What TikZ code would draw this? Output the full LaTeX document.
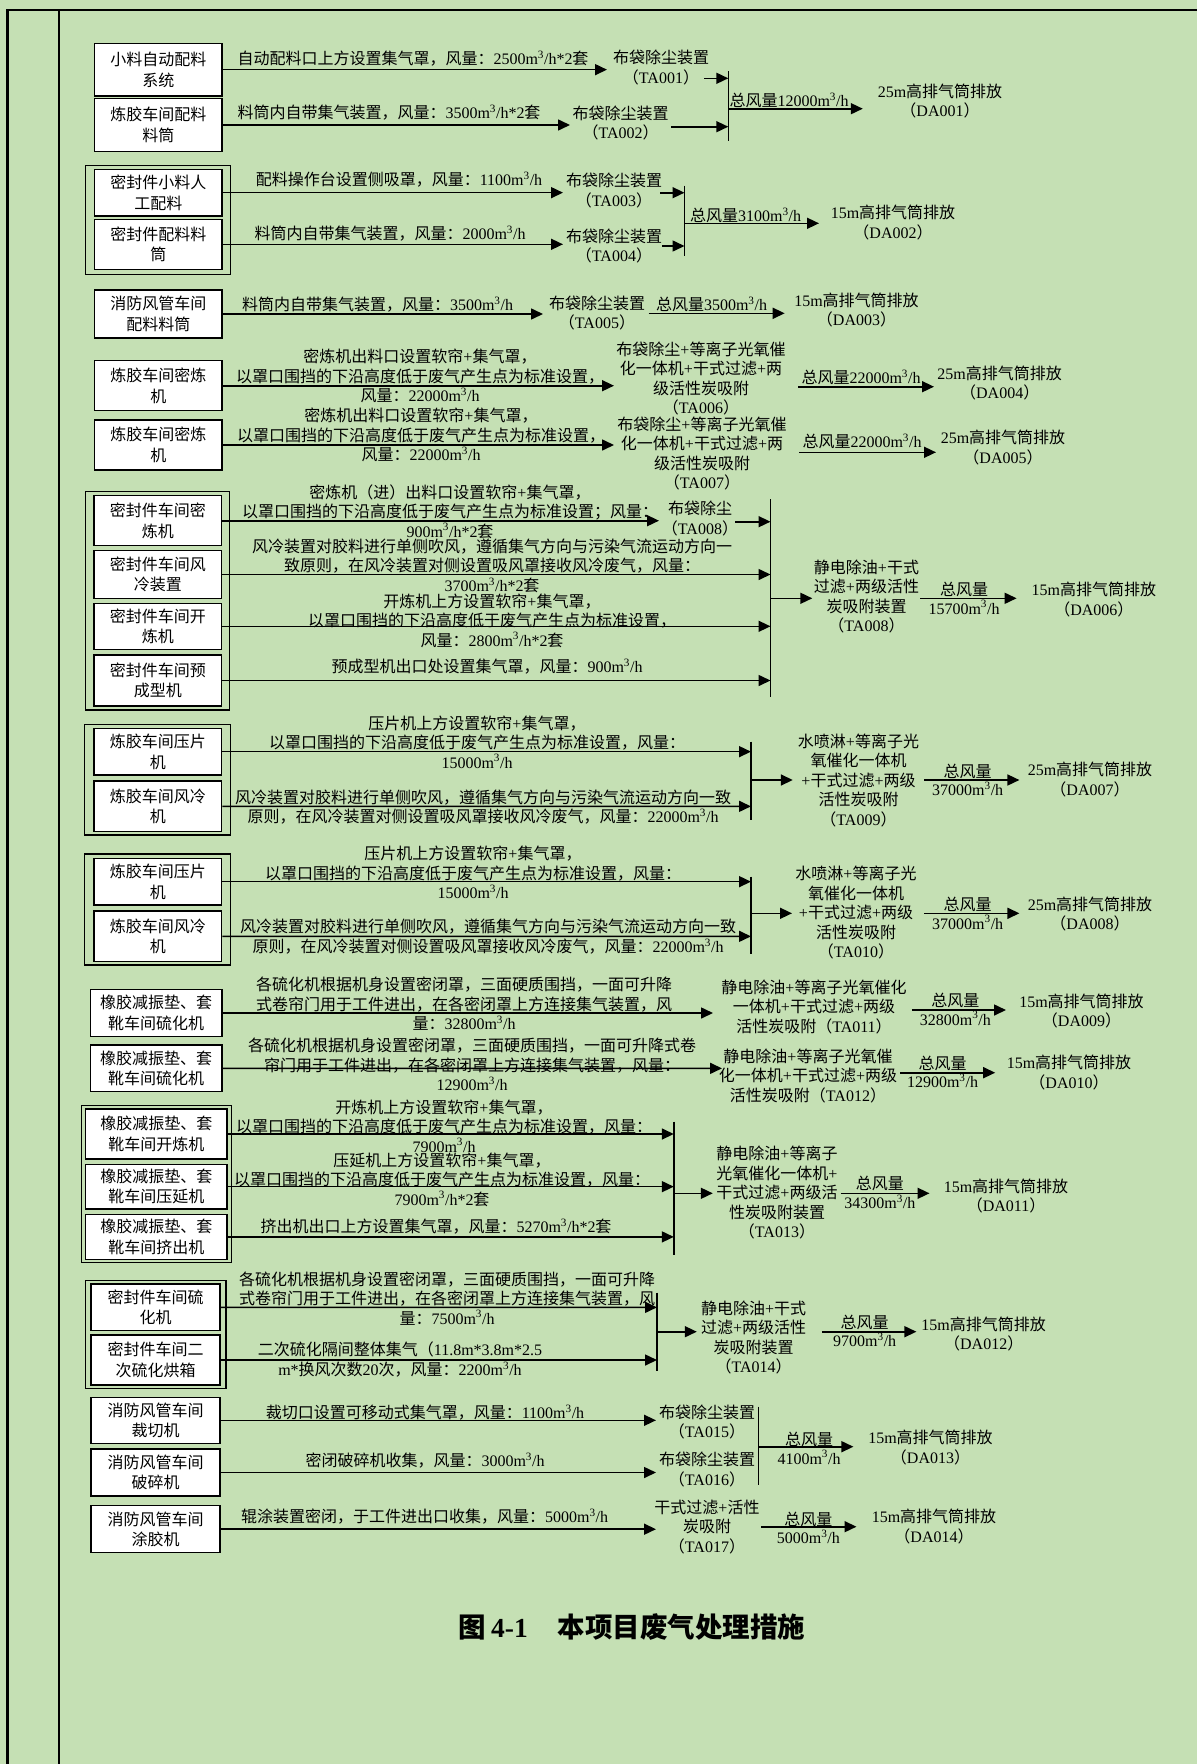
\documentclass[tikz,border=0pt]{standalone}
\usepackage{fontspec}
\usetikzlibrary{arrows.meta}
\setmainfont{Liberation Serif}
\newfontfamily\latfont{Liberation Serif}
\newfontfamily\cjkfont{Noto Sans CJK SC}
% Automatic switch between the Latin face and the CJK face
\XeTeXinterchartokenstate=1
\newXeTeXintercharclass\cjkcls
\makeatletter
\newcommand\cjkrange[2]{\count@=#1\relax
  \loop\XeTeXcharclass\count@=\cjkcls
  \ifnum\count@<#2\relax\advance\count@\@ne\repeat}
\cjkrange{"2E80}{"9FFF}
\cjkrange{"FF00}{"FFEF}
\makeatother
\XeTeXinterchartoks 0 \cjkcls = {\cjkfont}
\XeTeXinterchartoks 4095 \cjkcls = {\cjkfont}
\XeTeXinterchartoks \cjkcls 0 = {\latfont}
\XeTeXinterchartoks 4095 0 = {\latfont}

\newcommand\cubh{m\textsuperscript{3}/h}
\newcommand\lblfont{\fontsize{16}{19.5}\selectfont}
\newcommand\boxfont{\fontsize{16}{20.5}\selectfont}
\newcommand\flowfont{\fontsize{16}{18.5}\selectfont}
\definecolor{pagegreen}{RGB}{197,224,180}

\tikzset{
  box/.style={draw, line width=1.5pt, fill=white, inner sep=0pt, align=center, font=\boxfont},
  grpframe/.style={draw, line width=1.3pt},
  lbl/.style={inner sep=0pt, align=center, font=\lblfont},
  flow/.style={inner sep=0pt, align=center, font=\flowfont},
  arr/.style={line width=1.6pt, -{Triangle[length=12pt,width=11pt]}},
  bar/.style={line width=1.6pt},
}
% source box given by its left, right, top and bottom edges
\newcommand\boxat[6]{%
  \pgfmathsetmacro\bxw{#3-#2}%
  \pgfmathsetmacro\bxh{#5-#4}%
  \node[box, minimum width=\bxw pt, minimum height=\bxh pt] (#1) at ({(#2+#3)/2},{(#4+#5)/2}) {#6};}

\begin{document}
\begin{tikzpicture}[x=1pt,y=-1pt]
\fill[pagegreen] (0,0) rectangle (1197,1764);
\useasboundingbox (0,0) rectangle (1197,1764);
% page frame
\draw[line width=2.8pt] (7.5,1764) -- (7.5,10) -- (1197,10);
\draw[line width=2pt] (59,10) -- (59,1764);

% ---------- DA001 ----------
\boxat{A1}{94.5}{222}{43.3}{96}{小料自动配料\\系统}
\boxat{A2}{94.5}{222}{98.3}{151.7}{炼胶车间配料\\料筒}
\node[lbl] (LA1) at (413,58.3) {自动配料口上方设置集气罩，风量：2500\cubh*2套};
\node[lbl] (LA2) at (389,112.3) {料筒内自带集气装置，风量：3500\cubh*2套};
\coordinate (tA1) at (607,69.65);
\coordinate (tA2) at (570,125);
\draw[arr] (A1) -- (tA1);
\draw[arr] (A2) -- (tA2);
\node[lbl] (T1) at (661,67.5) {布袋除尘装置\\（TA001）};
\node[lbl] (T2) at (620.6,123) {布袋除尘装置\\（TA002）};
\coordinate (barAt) at (728.3,71);
\coordinate (barAb) at (728.3,140.7);
\draw[bar] (barAt) -- (barAb);
\coordinate (T1o) at (704,78.3);
\coordinate (T1i) at (728.3,78.3);
\coordinate (T2o) at (671,126.7);
\coordinate (T2i) at (728.3,126.7);
\draw[arr] (T1o) -- (T1i);
\draw[arr] (T2o) -- (T2i);
\coordinate (oA) at (728.3,108.7);
\coordinate (oAt) at (862.8,108.7);
\draw[arr] (oA) -- (oAt);
\node[flow] (QA) at (789,100.2) {总风量12000\cubh};
\node[lbl] (DA1) at (940,100.8) {25m高排气筒排放\\（DA001）};

% ---------- DA002 ----------
\draw[grpframe] (85.6,165.7) rectangle (230.8,274.3);
\boxat{B1}{94.5}{222}{169.3}{216}{密封件小料人\\工配料}
\boxat{B2}{94.5}{222}{219.3}{269.3}{密封件配料料\\筒}
\node[lbl] (LB1) at (399,180) {配料操作台设置侧吸罩，风量：1100\cubh};
\node[lbl] (LB2) at (390,234) {料筒内自带集气装置，风量：2000\cubh};
\coordinate (tB1) at (563,192.65);
\coordinate (tB2) at (563,244.3);
\draw[arr] (B1) -- (tB1);
\draw[arr] (B2) -- (tB2);
\node[lbl] (T3) at (614,190.5) {布袋除尘装置\\（TA003）};
\node[lbl] (T4) at (614,246) {布袋除尘装置\\（TA004）};
\coordinate (barBt) at (684.5,185.7);
\coordinate (barBb) at (684.5,255.7);
\draw[bar] (barBt) -- (barBb);
\coordinate (T3o) at (660,192.7);
\coordinate (T3i) at (684.5,192.7);
\coordinate (T4o) at (662,246);
\coordinate (T4i) at (684.5,246);
\draw[arr] (T3o) -- (T3i);
\draw[arr] (T4o) -- (T4i);
\coordinate (oB) at (684.5,223.3);
\coordinate (oBt) at (819,223.3);
\draw[arr] (oB) -- (oBt);
\node[flow] (QB) at (745.6,215.2) {总风量3100\cubh};
\node[lbl] (DA2) at (893,222.7) {15m高排气筒排放\\（DA002）};

% ---------- DA003 ----------
\boxat{C1}{94.5}{222}{290}{338}{消防风管车间\\配料料筒}
\node[lbl] (LC1) at (377.5,305) {料筒内自带集气装置，风量：3500\cubh};
\coordinate (tC1) at (543,314);
\draw[arr] (C1) -- (tC1);
\node[lbl] (T5) at (597,312.8) {布袋除尘装置\\（TA005）};
\coordinate (oC) at (648.7,313.3);
\coordinate (oCt) at (784.7,313.3);
\draw[arr] (oC) -- (oCt);
\node[flow] (QC) at (711.5,304.3) {总风量3500\cubh};
\node[lbl] (DA3) at (856.5,310) {15m高排气筒排放\\（DA003）};

% ---------- DA004 / DA005 ----------
\boxat{D1}{94.5}{222}{360.7}{410.7}{炼胶车间密炼\\机}
\node[lbl] (LD1) at (420,376.3) {密炼机出料口设置软帘+集气罩，\\以罩口围挡的下沿高度低于废气产生点为标准设置，\\风量：22000\cubh};
\coordinate (tD1) at (614,385.7);
\draw[arr] (D1) -- (tD1);
\node[lbl] (T6) at (701,378.7) {布袋除尘+等离子光氧催\\化一体机+干式过滤+两\\级活性炭吸附\\（TA006）};
\coordinate (oD1) at (798,386.7);
\coordinate (oD1t) at (934,386.7);
\draw[arr] (oD1) -- (oD1t);
\node[flow] (QD1) at (861,377.3) {总风量22000\cubh};
\node[lbl] (DA4) at (999.7,383) {25m高排气筒排放\\（DA004）};

\boxat{D2}{94.5}{222}{420}{470}{炼胶车间密炼\\机}
\node[lbl] (LD2) at (421,435.2) {密炼机出料口设置软帘+集气罩，\\以罩口围挡的下沿高度低于废气产生点为标准设置，\\风量：22000\cubh};
\coordinate (tD2) at (614,445);
\draw[arr] (D2) -- (tD2);
\node[lbl] (T7) at (702,453.5) {布袋除尘+等离子光氧催\\化一体机+干式过滤+两\\级活性炭吸附\\（TA007）};
\coordinate (oD2) at (799,452.3);
\coordinate (oD2t) at (936,452.3);
\draw[arr] (oD2) -- (oD2t);
\node[flow] (QD2) at (862,441.7) {总风量22000\cubh};
\node[lbl] (DA5) at (1003,447.5) {25m高排气筒排放\\（DA005）};

% ---------- DA006 ----------
\draw[grpframe] (85.5,491.7) rectangle (229.5,710);
\boxat{E1}{94}{221.5}{495.7}{545.7}{密封件车间密\\炼机}
\boxat{E2}{94}{221.5}{550.7}{598.3}{密封件车间风\\冷装置}
\boxat{E3}{94}{221.5}{603.3}{649.3}{密封件车间开\\炼机}
\boxat{E4}{94}{221.5}{655}{706}{密封件车间预\\成型机}
\node[lbl] (LE1) at (450,511.5) {密炼机（进）出料口设置软帘+集气罩，\\以罩口围挡的下沿高度低于废气产生点为标准设置；风量：\\900\cubh*2套};
\node[lbl] (LE2) at (492,565.8) {风冷装置对胶料进行单侧吹风，遵循集气方向与污染气流运动方向一\\致原则，在风冷装置对侧设置吸风罩接收风冷废气，风量：\\3700\cubh*2套};
\node[lbl] (LE3) at (492,620.5) {开炼机上方设置软帘+集气罩，\\以罩口围挡的下沿高度低于废气产生点为标准设置，\\风量：2800\cubh*2套};
\node[lbl] (LE4) at (487,666.7) {预成型机出口处设置集气罩，风量：900\cubh};
\coordinate (tE1) at (659,520.7);
\coordinate (tE2) at (770.5,574.5);
\coordinate (tE3) at (770.5,626.3);
\coordinate (tE4) at (770.5,680.5);
\draw[arr] (E1) -- (tE1);
\draw[arr] (E2) -- (tE2);
\draw[arr] (E3) -- (tE3);
\draw[arr] (E4) -- (tE4);
\node[lbl] (T8a) at (700,518.3) {布袋除尘\\（TA008）};
\coordinate (T8o) at (735,521.7);
\coordinate (T8i) at (770.5,521.7);
\draw[arr] (T8o) -- (T8i);
\coordinate (barEt) at (770.5,499.3);
\coordinate (barEb) at (770.5,697.3);
\draw[bar] (barEt) -- (barEb);
\coordinate (oE) at (770.5,598.3);
\coordinate (oEt) at (812.3,598.3);
\draw[arr] (oE) -- (oEt);
\node[lbl] (T8b) at (866.5,596.5) {静电除油+干式\\过滤+两级活性\\炭吸附装置\\（TA008）};
\coordinate (oE2) at (920,598.3);
\coordinate (oE2t) at (1016.6,598.3);
\draw[arr] (oE2) -- (oE2t);
\node[flow] (QE) at (964,598.3) {总风量\\15700\cubh};
\node[lbl] (DA6) at (1093.8,599.3) {15m高排气筒排放\\（DA006）};

% ---------- DA007 ----------
\draw[grpframe] (84.5,724.3) rectangle (230.3,835);
\boxat{F1}{94}{221.5}{728.3}{775}{炼胶车间压片\\机}
\boxat{F2}{94}{221.5}{781}{831.7}{炼胶车间风冷\\机}
\node[lbl] (LF1) at (477,742) {压片机上方设置软帘+集气罩，\\以罩口围挡的下沿高度低于废气产生点为标准设置，风量：\\15000\cubh};
\node[lbl] (LF2) at (483,807) {风冷装置对胶料进行单侧吹风，遵循集气方向与污染气流运动方向一致\\原则，在风冷装置对侧设置吸风罩接收风冷废气，风量：22000\cubh};
\coordinate (tF1) at (751,751.65);
\coordinate (tF2) at (751,806.35);
\draw[arr] (F1) -- (tF1);
\draw[arr] (F2) -- (tF2);
\coordinate (barFt) at (751,741.7);
\coordinate (barFb) at (751,820);
\draw[bar] (barFt) -- (barFb);
\coordinate (oF) at (751,780);
\coordinate (oFt) at (792.8,780);
\draw[arr] (oF) -- (oFt);
\node[lbl] (T9) at (858.5,780) {水喷淋+等离子光\\氧催化一体机\\+干式过滤+两级\\活性炭吸附\\（TA009）};
\coordinate (oF2) at (924,780);
\coordinate (oF2t) at (1019.4,780);
\draw[arr] (oF2) -- (oF2t);
\node[flow] (QF) at (967.7,780) {总风量\\37000\cubh};
\node[lbl] (DA7) at (1090,779.7) {25m高排气筒排放\\（DA007）};

% ---------- DA008 ----------
\draw[grpframe] (84.5,854) rectangle (230.3,965);
\boxat{G1}{94}{221.5}{858.3}{905}{炼胶车间压片\\机}
\boxat{G2}{94}{221.5}{911}{961.7}{炼胶车间风冷\\机}
\node[lbl] (LG1) at (473,872.3) {压片机上方设置软帘+集气罩，\\以罩口围挡的下沿高度低于废气产生点为标准设置，风量：\\15000\cubh};
\node[lbl] (LG2) at (488,936.8) {风冷装置对胶料进行单侧吹风，遵循集气方向与污染气流运动方向一致\\原则，在风冷装置对侧设置吸风罩接收风冷废气，风量：22000\cubh};
\coordinate (tG1) at (751,881.65);
\coordinate (tG2) at (751,936.35);
\draw[arr] (G1) -- (tG1);
\draw[arr] (G2) -- (tG2);
\coordinate (barGt) at (751,876.7);
\coordinate (barGb) at (751,954);
\draw[bar] (barGt) -- (barGb);
\coordinate (oG) at (751,913.3);
\coordinate (oGt) at (792,913.3);
\draw[arr] (oG) -- (oGt);
\node[lbl] (T10) at (856,912.8) {水喷淋+等离子光\\氧催化一体机\\+干式过滤+两级\\活性炭吸附\\（TA010）};
\coordinate (oG2) at (924,913.3);
\coordinate (oG2t) at (1019.4,913.3);
\draw[arr] (oG2) -- (oG2t);
\node[flow] (QG) at (967.7,913.3) {总风量\\37000\cubh};
\node[lbl] (DA8) at (1090,914) {25m高排气筒排放\\（DA008）};

% ---------- DA009 / DA010 ----------
\boxat{H1}{90.5}{221.8}{989.3}{1036.7}{橡胶减振垫、套\\靴车间硫化机}
\node[lbl] (LH1) at (464,1004) {各硫化机根据机身设置密闭罩，三面硬质围挡，一面可升降\\式卷帘门用于工件进出，在各密闭罩上方连接集气装置，风\\量：32800\cubh};
\coordinate (tH1) at (713,1013);
\draw[arr] (H1) -- (tH1);
\node[lbl] (T11) at (814,1006.7) {静电除油+等离子光氧催化\\一体机+干式过滤+两级\\活性炭吸附（TA011）};
\coordinate (oH1) at (911.8,1010);
\coordinate (oH1t) at (1006,1010);
\draw[arr] (oH1) -- (oH1t);
\node[flow] (QH1) at (955.3,1009.2) {总风量\\32800\cubh};
\node[lbl] (DA9) at (1081.5,1011.2) {15m高排气筒排放\\（DA009）};

\boxat{H2}{90.5}{221.8}{1045}{1091.7}{橡胶减振垫、套\\靴车间硫化机}
\node[lbl] (LH2) at (472,1064.3) {各硫化机根据机身设置密闭罩，三面硬质围挡，一面可升降式卷\\帘门用于工件进出，在各密闭罩上方连接集气装置，风量：\\12900\cubh};
\coordinate (tH2) at (722,1068.35);
\draw[arr] (H2) -- (tH2);
\node[lbl] (T12) at (808,1075.5) {静电除油+等离子光氧催\\化一体机+干式过滤+两级\\活性炭吸附（TA012）};
\coordinate (oH2) at (900,1072.7);
\coordinate (oH2t) at (995.2,1072.7);
\draw[arr] (oH2) -- (oH2t);
\node[flow] (QH2) at (942.5,1071.7) {总风量\\12900\cubh};
\node[lbl] (DA10) at (1069,1072.7) {15m高排气筒排放\\（DA010）};

% ---------- DA011 ----------
\draw[grpframe] (81.2,1105.7) rectangle (231.2,1262.7);
\boxat{I1}{85.6}{227}{1109}{1159}{橡胶减振垫、套\\靴车间开炼机}
\boxat{I2}{85.6}{227}{1164.3}{1209}{橡胶减振垫、套\\靴车间压延机}
\boxat{I3}{85.6}{227}{1214.3}{1259.5}{橡胶减振垫、套\\靴车间挤出机}
\node[lbl] (LI1) at (444,1126) {开炼机上方设置软帘+集气罩，\\以罩口围挡的下沿高度低于废气产生点为标准设置，风量：\\7900\cubh};
\node[lbl] (LI2) at (442,1179.5) {压延机上方设置软帘+集气罩，\\以罩口围挡的下沿高度低于废气产生点为标准设置，风量：\\7900\cubh*2套};
\node[lbl] (LI3) at (436,1226.7) {挤出机出口上方设置集气罩，风量：5270\cubh*2套};
\coordinate (tI1) at (673.8,1134);
\coordinate (tI2) at (673.8,1186.65);
\coordinate (tI3) at (673.8,1236.9);
\draw[arr] (I1) -- (tI1);
\draw[arr] (I2) -- (tI2);
\draw[arr] (I3) -- (tI3);
\coordinate (barIt) at (673.8,1121.7);
\coordinate (barIb) at (673.8,1255);
\draw[bar] (barIt) -- (barIb);
\coordinate (oI) at (673.8,1193.3);
\coordinate (oIt) at (712.8,1193.3);
\draw[arr] (oI) -- (oIt);
\node[lbl] (T13) at (777,1192.5) {静电除油+等离子\\光氧催化一体机+\\干式过滤+两级活\\性炭吸附装置\\（TA013）};
\coordinate (oI2) at (840.7,1193.3);
\coordinate (oI2t) at (929.5,1193.3);
\draw[arr] (oI2) -- (oI2t);
\node[flow] (QI) at (879.8,1192.5) {总风量\\34300\cubh};
\node[lbl] (DA11) at (1006,1196) {15m高排气筒排放\\（DA011）};

% ---------- DA012 ----------
\draw[grpframe] (85.5,1280.7) rectangle (226,1388.3);
\boxat{J1}{91.2}{219.8}{1284}{1330.7}{密封件车间硫\\化机}
\boxat{J2}{91.2}{219.8}{1335}{1385}{密封件车间二\\次硫化烘箱}
\node[lbl] (LJ1) at (447,1298.3) {各硫化机根据机身设置密闭罩，三面硬质围挡，一面可升降\\式卷帘门用于工件进出，在各密闭罩上方连接集气装置，风\\量：7500\cubh};
\node[lbl] (LJ2) at (400,1359.7) {二次硫化隔间整体集气（11.8m*3.8m*2.5\\m*换风次数20次，风量：2200\cubh};
\coordinate (tJ1) at (657,1307.35);
\coordinate (tJ2) at (657,1360);
\draw[arr] (J1) -- (tJ1);
\draw[arr] (J2) -- (tJ2);
\coordinate (barJt) at (657,1292.7);
\coordinate (barJb) at (657,1370.7);
\draw[bar] (barJt) -- (barJb);
\coordinate (oJ) at (657,1331.7);
\coordinate (oJt) at (696.8,1331.7);
\draw[arr] (oJ) -- (oJt);
\node[lbl] (T14) at (753.6,1337.5) {静电除油+干式\\过滤+两级活性\\炭吸附装置\\（TA014）};
\coordinate (oJ2) at (821.9,1331.7);
\coordinate (oJ2t) at (916.4,1331.7);
\draw[arr] (oJ2) -- (oJ2t);
\node[flow] (QJ) at (864.7,1330.8) {总风量\\9700\cubh};
\node[lbl] (DA12) at (983.7,1334) {15m高排气筒排放\\（DA012）};

% ---------- DA013 / DA014 ----------
\boxat{K1}{91.2}{219.8}{1397.3}{1443.3}{消防风管车间\\裁切机}
\boxat{K2}{91.2}{219.8}{1449}{1496}{消防风管车间\\破碎机}
\boxat{K3}{91.2}{219.8}{1505.7}{1552.7}{消防风管车间\\涂胶机}
\node[lbl] (LK1) at (425,1412.3) {裁切口设置可移动式集气罩，风量：1100\cubh};
\node[lbl] (LK2) at (425,1460.7) {密闭破碎机收集，风量：3000\cubh};
\node[lbl] (LK3) at (424.6,1516.7) {辊涂装置密闭，于工件进出口收集，风量：5000\cubh};
\coordinate (tK1) at (656,1420.3);
\coordinate (tK2) at (656,1472.5);
\coordinate (tK3) at (656,1529.2);
\draw[arr] (K1) -- (tK1);
\draw[arr] (K2) -- (tK2);
\draw[arr] (K3) -- (tK3);
\node[lbl] (T15) at (707,1421.8) {布袋除尘装置\\（TA015）};
\node[lbl] (T16) at (707,1469.7) {布袋除尘装置\\（TA016）};
\coordinate (barKt) at (758.5,1406.5);
\coordinate (barKb) at (758.5,1485);
\draw[bar] (barKt) -- (barKb);
\coordinate (oK) at (758.5,1446.7);
\coordinate (oKt) at (853.4,1446.7);
\draw[arr] (oK) -- (oKt);
\node[flow] (QK) at (809,1448.3) {总风量\\4100\cubh};
\node[lbl] (DA13) at (930.5,1447.3) {15m高排气筒排放\\（DA013）};
\node[lbl] (T17) at (707,1527) {干式过滤+活性\\炭吸附\\（TA017）};
\coordinate (oK3) at (761,1526.7);
\coordinate (oK3t) at (856.5,1526.7);
\draw[arr] (oK3) -- (oK3t);
\node[flow] (QK3) at (808.4,1527.8) {总风量\\5000\cubh};
\node[lbl] (DA14) at (934,1526.7) {15m高排气筒排放\\（DA014）};

% ---------- caption ----------
\node[inner sep=0pt, font=\fontsize{27.5}{30}\selectfont\bfseries] (cap) at (632,1626.7) {图\hspace{5pt}4-1\hspace{30pt}本项目废气处理措施};
\end{tikzpicture}
\end{document}
